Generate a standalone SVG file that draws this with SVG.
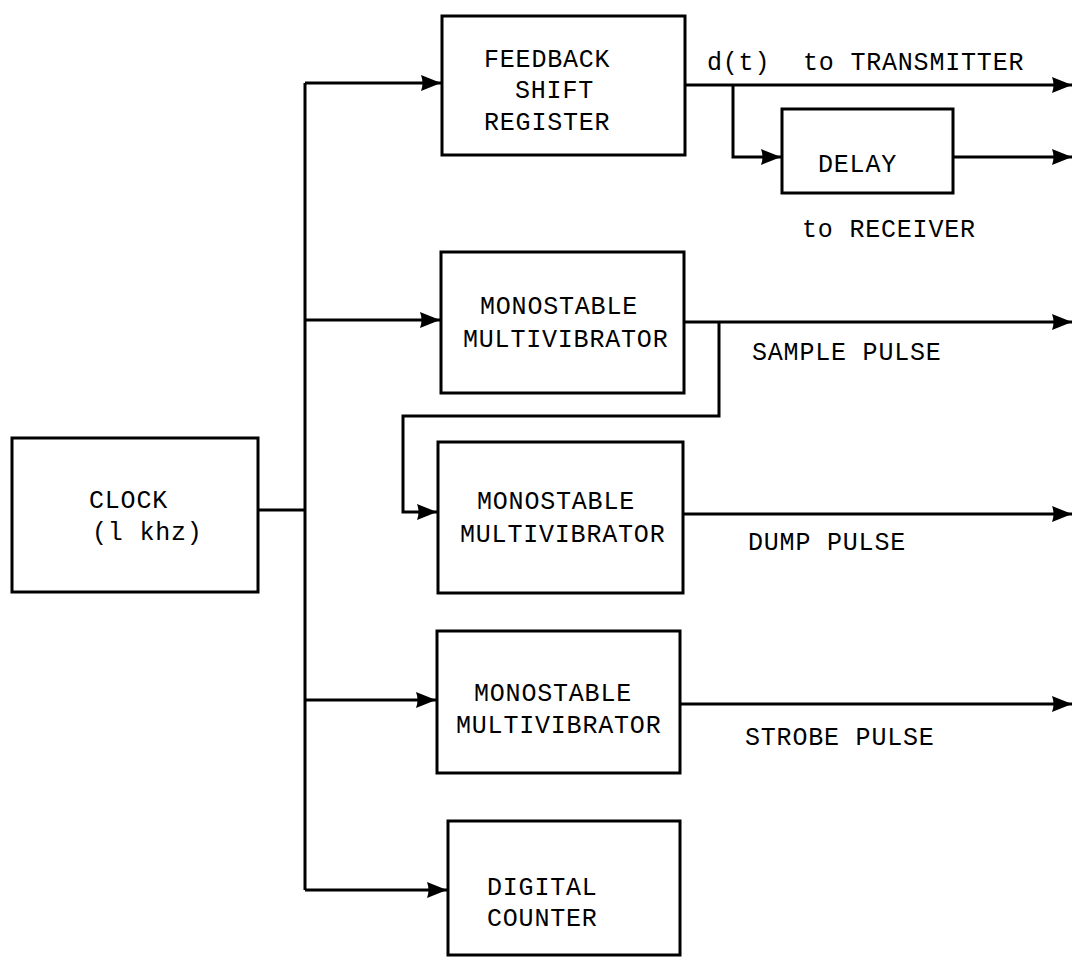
<svg xmlns="http://www.w3.org/2000/svg" width="1074" height="963" viewBox="0 0 1074 963">
<style>
.box{fill:#fff;stroke:#000;stroke-width:3}
.ln{fill:none;stroke:#000;stroke-width:3}
.t{font-family:"Liberation Mono","Courier New",monospace;font-size:25px;letter-spacing:0.8px;fill:#000}
</style>
<defs>
<marker id="ah" markerUnits="userSpaceOnUse" markerWidth="24" markerHeight="20" refX="21" refY="10" orient="auto">
<path d="M1,2 L21,10 L1,18 Q4,10 1,2 Z" fill="#000"/>
</marker>
</defs>
<rect width="1074" height="963" fill="#fff"/>
<g id="connectors">
<path class="ln" d="M258,510 H305"/>
<path class="ln" d="M305,83 V890"/>
<path class="ln" d="M305,83 H441" marker-end="url(#ah)"/>
<path class="ln" d="M305,320 H440" marker-end="url(#ah)"/>
<path class="ln" d="M305,700 H436" marker-end="url(#ah)"/>
<path class="ln" d="M305,890 H447" marker-end="url(#ah)"/>
<path class="ln" d="M685,85 H1072" marker-end="url(#ah)"/>
<path class="ln" d="M733,85 V157 H781" marker-end="url(#ah)"/>
<path class="ln" d="M953,157 H1072" marker-end="url(#ah)"/>
<path class="ln" d="M684,322 H1072" marker-end="url(#ah)"/>
<path class="ln" d="M719,322 V416 H403 V512 H437" marker-end="url(#ah)"/>
<path class="ln" d="M683,514 H1072" marker-end="url(#ah)"/>
<path class="ln" d="M680,704 H1072" marker-end="url(#ah)"/>
</g>
<g id="clock">
<rect class="box" x="12" y="438" width="246" height="154"/>
<text class="t" x="89" y="508">CLOCK</text>
<text class="t" x="92" y="540">(l khz)</text>
</g>
<g id="fsr">
<rect class="box" x="442" y="16" width="243" height="139"/>
<text class="t" x="484" y="67">FEEDBACK</text>
<text class="t" x="515" y="98">SHIFT</text>
<text class="t" x="484" y="130">REGISTER</text>
</g>
<g id="delay">
<rect class="box" x="782" y="109" width="171" height="84"/>
<text class="t" x="818" y="172">DELAY</text>
</g>
<g id="mm1">
<rect class="box" x="441" y="252" width="243" height="141"/>
<text class="t" x="480" y="314">MONOSTABLE</text>
<text class="t" x="463" y="347">MULTIVIBRATOR</text>
</g>
<g id="mm2">
<rect class="box" x="438" y="442" width="245" height="151"/>
<text class="t" x="477" y="509">MONOSTABLE</text>
<text class="t" x="460" y="542">MULTIVIBRATOR</text>
</g>
<g id="mm3">
<rect class="box" x="437" y="631" width="243" height="142"/>
<text class="t" x="474" y="701">MONOSTABLE</text>
<text class="t" x="456" y="733">MULTIVIBRATOR</text>
</g>
<g id="counter">
<rect class="box" x="448" y="821" width="232" height="134"/>
<text class="t" x="487" y="895">DIGITAL</text>
<text class="t" x="487" y="926">COUNTER</text>
</g>
<g id="labels">
<text class="t" x="707" y="70">d(t)</text>
<text class="t" x="803" y="70">to TRANSMITTER</text>
<text class="t" x="802" y="237">to RECEIVER</text>
<text class="t" x="752" y="360">SAMPLE PULSE</text>
<text class="t" x="748" y="550">DUMP PULSE</text>
<text class="t" x="745" y="745">STROBE PULSE</text>
</g>
</svg>
